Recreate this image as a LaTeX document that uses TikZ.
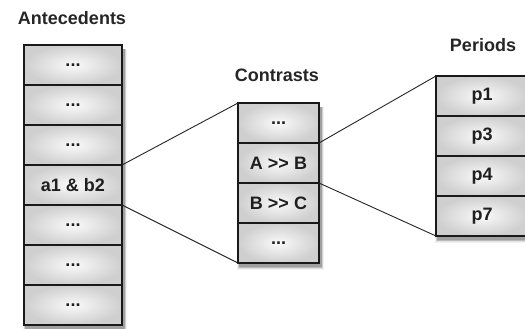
\documentclass[tikz,border=0pt]{standalone}
\usepackage{fontspec}
\setmainfont{Liberation Sans}
\usetikzlibrary{calc}
\tikzset{
  cellbox/.style={draw=black!90, line width=1.1pt, inner sep=0pt, outer sep=0pt,
    minimum height=40pt, inner color=black!2, outer color=black!19,
    font=\fontsize{18}{20}\selectfont\bfseries, text=black!88},
  titletext/.style={font=\fontsize{18}{20}\selectfont\bfseries, text=black!85, inner sep=0pt},
  link/.style={draw=black!85, line width=0.9pt},
  antcell/.style={cellbox, minimum width=98pt},
  concell/.style={cellbox, minimum width=81pt},
  percell/.style={cellbox, minimum width=92pt}
}
\newcommand{\colshadow}[2]{%
  \foreach \d/\o in {5/0.05,4/0.06,3/0.08,2/0.10,1/0.14}{%
    \fill[black, opacity=\o] ($(#1)+(2-\d*0.6,4)$) rectangle ($(#2)+(2+\d*0.6,3+\d*0.8)$);
  }%
}
\begin{document}
\begin{tikzpicture}[x=1pt,y=-1pt]
\useasboundingbox (0,0) rectangle (525,329);
\clip (0,0) rectangle (525,329);
\fill[white] (0,0) rectangle (525,329);
% shadows
\coordinate (sa1) at (24,45);  \coordinate (sa2) at (122,325);
\coordinate (sc1) at (238,103); \coordinate (sc2) at (319,263);
\coordinate (sp1) at (436,76);  \coordinate (sp2) at (528,236);
\colshadow{sa1}{sa2}
\colshadow{sc1}{sc2}
\colshadow{sp1}{sp2}
% titles
\node[titletext] (ta) at (72,18) {Antecedents};
\node[titletext] (tc) at (277,75) {Contrasts};
\node[titletext] (tp) at (483,45) {Periods};
% antecedents
\path (73,65)  node[antcell] (a1) {...};
\path (73,105) node[antcell] (a2) {...};
\path (73,145) node[antcell] (a3) {...};
\path (73,185) node[antcell] (a4) {a1 \& b2};
\path (73,225) node[antcell] (a5) {...};
\path (73,265) node[antcell] (a6) {...};
\path (73,305) node[antcell] (a7) {...};
% contrasts
\path (278.5,123) node[concell] (c1) {...};
\path (278.5,163) node[concell] (c2) {A {>}{>} B};
\path (278.5,203) node[concell] (c3) {B {>}{>} C};
\path (278.5,243) node[concell] (c4) {...};
% periods
\path (482,96)  node[percell] (p1) {p1};
\path (482,136) node[percell] (p3) {p3};
\path (482,176) node[percell] (p4) {p4};
\path (482,216) node[percell] (p7) {p7};
% links
\draw[link] (a4.north east) -- (c1.north west);
\draw[link] (a4.south east) -- (c4.south west);
\draw[link] (c2.north east) -- (p1.north west);
\draw[link] (c2.south east) -- (p7.south west);
\end{tikzpicture}
\end{document}
